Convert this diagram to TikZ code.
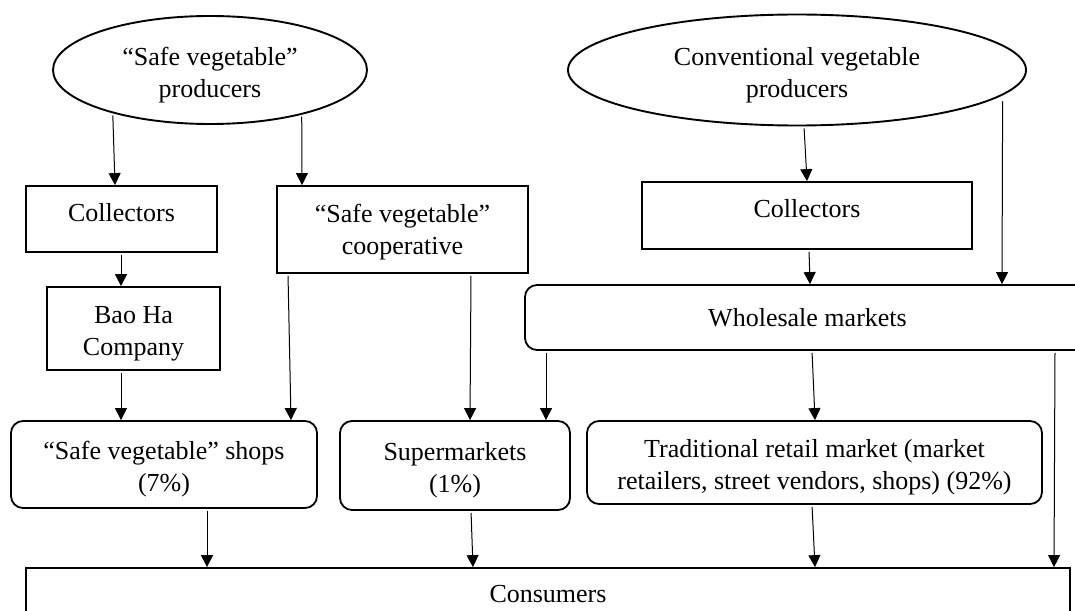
\documentclass[tikz,border=0pt]{standalone}
\usepackage{fontspec}
\setmainfont{Liberation Serif}
\usetikzlibrary{shapes.geometric,arrows.meta,calc}
\newcommand\lowstrut{\rule{0pt}{14pt}}
\newcommand\midstrut{\rule{0pt}{12pt}}
\begin{document}
\begin{tikzpicture}[x=0.5pt,y=-0.5pt,
  every node/.style={font=\fontsize{13}{16.2}\selectfont, align=center, inner sep=0pt},
  oval/.style={ellipse, draw, line width=0.95pt},
  rbox/.style={rectangle, draw, line width=0.9pt},
  rrbox/.style={rectangle, rounded corners=6pt, draw, line width=0.9pt},
  onetext/.style={text depth=7pt},
  arr/.style={line width=0.5pt, shorten <=1pt, -{Triangle[length=6pt,width=6pt]}}
]
\clip (0,0) rectangle (1075,610);
\fill[white] (0,0) rectangle (1075,610);

% producers
\node[oval, minimum width=157pt, minimum height=54pt] (sp) at (210,70) {\lowstrut“Safe vegetable”\\producers};
\node[oval, minimum width=229pt, minimum height=55.5pt] (cp) at (797,70) {\lowstrut Conventional vegetable\\producers};

% intermediaries
\node[rbox, onetext, minimum width=95.5pt, minimum height=33pt] (col1) at (121.5,219) {Collectors};
\node[rbox, minimum width=125.5pt, minimum height=43.5pt] (coop) at (402.5,229.5) {\midstrut“Safe vegetable”\\cooperative};
\node[rbox, minimum width=86.5pt, minimum height=41.5pt] (bao) at (133.5,328.5) {\lowstrut Bao Ha\\Company};
\node[rbox, onetext, minimum width=165pt, minimum height=33.5pt] (col2) at (807,215.5) {Collectors};
\node[rrbox, minimum width=282.5pt, minimum height=32.5pt] (whole) at (807.5,317.5) {Wholesale markets};

% retail
\node[rrbox, minimum width=153pt, minimum height=43.5pt] (shops) at (164,464.5) {\lowstrut“Safe vegetable” shops\\(7\%)};
\node[rrbox, minimum width=115pt, minimum height=44.5pt] (super) at (455,465.5) {\lowstrut Supermarkets\\(1\%)};
\node[rrbox, minimum width=227.5pt, minimum height=41.5pt] (trad) at (814.5,462.5) {\lowstrut Traditional retail market (market\\retailers, street vendors, shops) (92\%)};

% consumers
\node[rbox, minimum width=522pt, minimum height=26pt] (cons) at (548,594) {Consumers};

% connectors
\draw[arr] (sp.204) -- ($(col1.north)+(-6.5,0)$);
\draw[arr] (sp.334) -- ($(coop.north)+(-100.5,0)$);
\draw[arr] ($(col1.south)+(-0.5,0)$) -- ($(bao.north)+(-12.5,0)$);
\draw[arr] ($(bao.south)+(-12.5,0)$) -- ($(shops.north)+(-43,0)$);
\draw[arr] ($(coop.south)+(-114.5,0)$) -- ($(shops.north)+(127,0)$);
\draw[arr] ($(coop.south)+(68.5,0)$) -- ($(super.north)+(15,0)$);
\draw[arr] ($(cp.south)+(7,0)$) -- ($(col2.north)+(0,0)$);
\draw[arr] ($(col2.south)+(2,0)$) -- ($(whole.north)+(2.5,0)$);
\draw[arr, shorten <=3pt] (cp.353) -- ($(whole.north)+(194.5,0)$);
\draw[arr] ($(whole.south)+(-261.5,0)$) -- ($(super.north)+(91,0)$);
\draw[arr] ($(whole.south)+(4.5,0)$) -- ($(trad.north)+(0.5,0)$);
\draw[arr] ($(whole.south)+(247.5,0)$) -- ($(cons.north)+(506,0)$);
\draw[arr] ($(shops.south)+(43,0)$) -- ($(cons.north)+(-341,0)$);
\draw[arr] ($(super.south)+(16,0)$) -- ($(cons.north)+(-75,0)$);
\draw[arr] ($(trad.south)+(-2.5,0)$) -- ($(cons.north)+(267,0)$);
\end{tikzpicture}
\end{document}
